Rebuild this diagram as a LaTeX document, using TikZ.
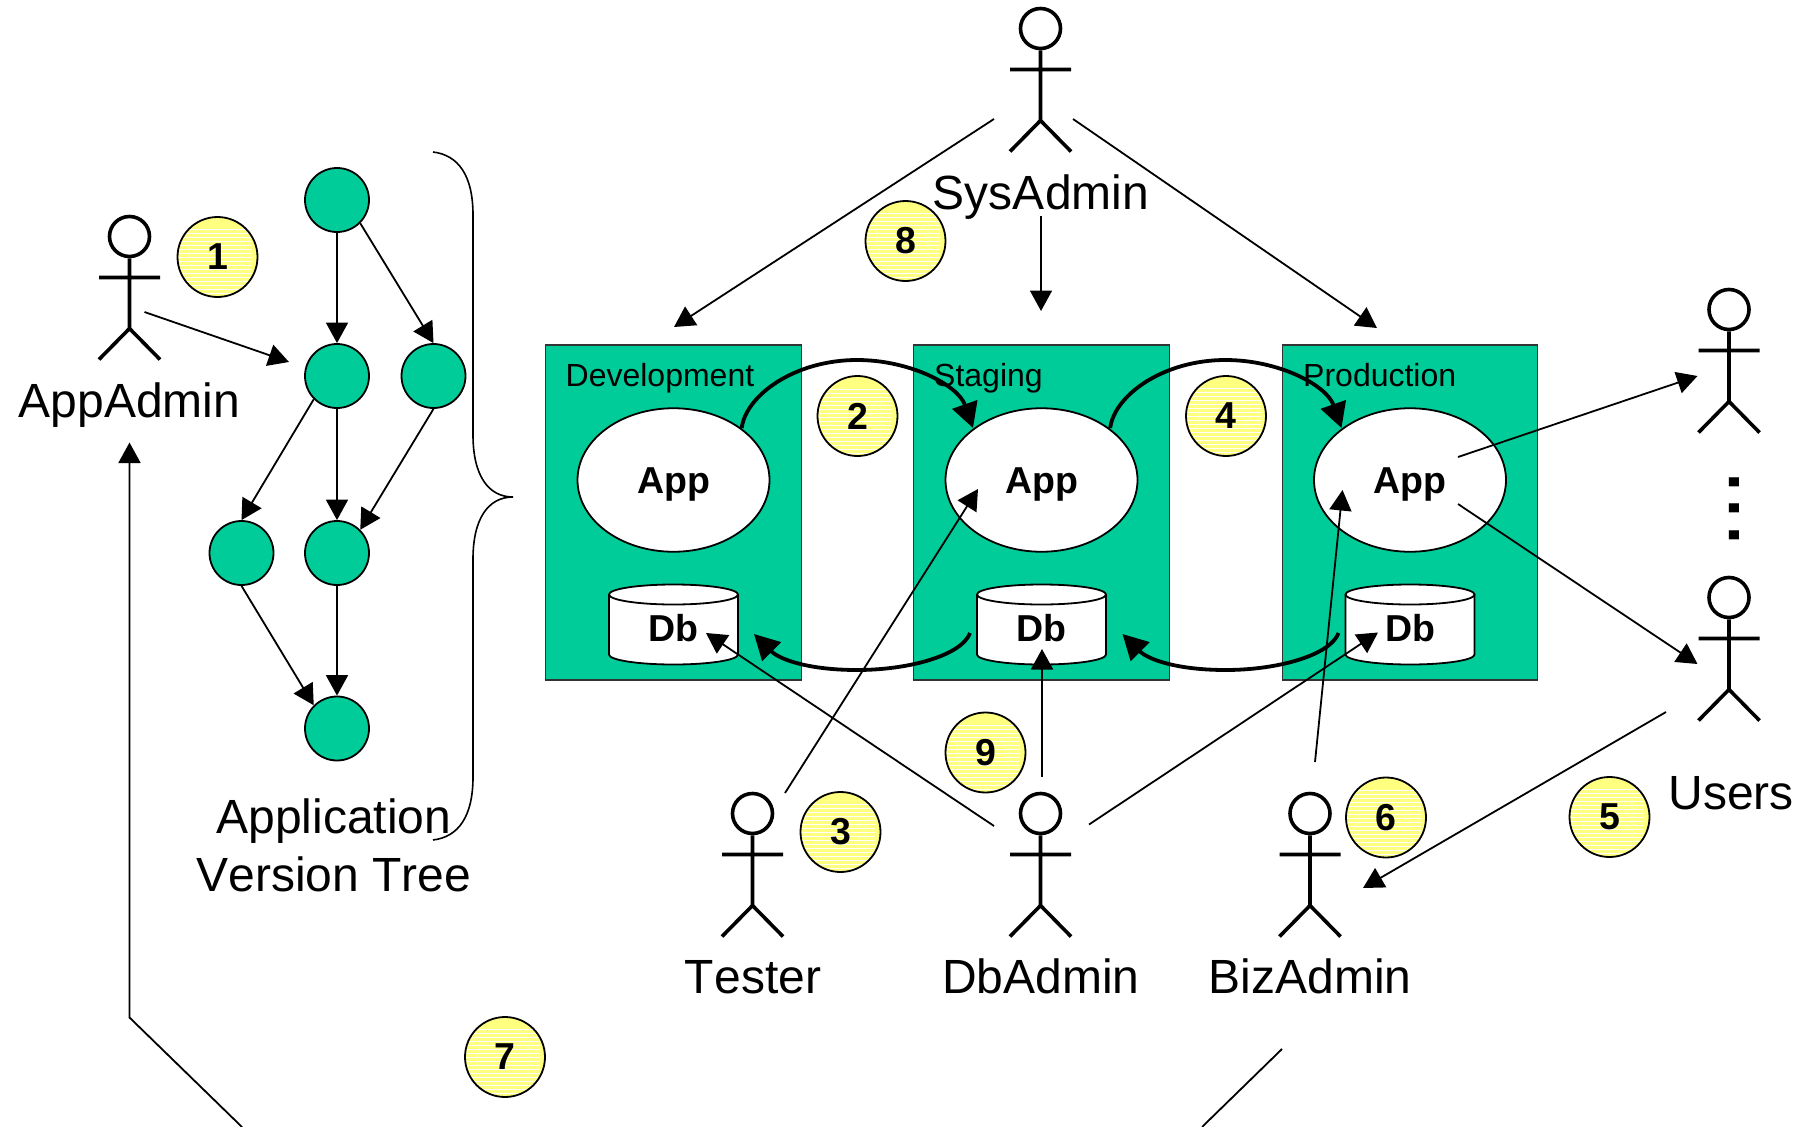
\documentclass[tikz,border=0pt]{standalone}
\usepackage{fontspec}
\setmainfont{Liberation Sans}[Kerning=Off]
\usetikzlibrary{arrows.meta,shapes.geometric}
\definecolor{panelgreen}{HTML}{00CC99}
\definecolor{badgeyellow}{HTML}{FFFF80}
\newcommand{\fsz}[1]{\fontsize{#1}{#1}\selectfont}
\tikzset{
  thinarrow/.style={line width=1.8pt,-{Triangle[length=20.5pt,width=22pt]}},
  thickarrow/.style={line width=3.8pt,-{Triangle[length=25pt,width=26pt]}},
  treenode/.style={circle,draw=black,line width=1.8pt,fill=panelgreen,minimum size=64pt,inner sep=0pt},
  panel/.style={draw=black!80,line width=1.4pt,fill=panelgreen,minimum width=255.5pt,minimum height=335pt,inner sep=0pt},
  appell/.style={ellipse,draw=black,line width=1.8pt,fill=white,minimum width=192pt,minimum height=143.5pt,inner sep=0pt},
  boldlabel/.style={anchor=base,font=\bfseries\fsz{37.5},inner sep=0pt},
  panellabel/.style={anchor=base west,font=\fsz{32},inner sep=0pt},
  actorlabel/.style={anchor=base,font=\fsz{48},inner sep=0pt},
  badge/.style={circle,draw=black,line width=1.8pt,fill=badgeyellow,minimum size=80pt,inner sep=0pt,font=\bfseries\fsz{37.5},
    path picture={\foreach \yy in {-40,-36,...,40}{\draw[white,line width=0.9pt] (-45,\yy)--(45,\yy);}}},
  actor/.pic={
    \node[circle,draw=black,line width=3.6pt,minimum size=40pt,inner sep=0pt] (-head) at (0,0) {};
    \draw[line width=3.6pt] (-head.south) -- (0,92) (-30.5,41) -- (30.5,41) (-30.5,123) -- (0,92) -- (30.5,123);
  },
  dbcyl/.pic={
    \draw[line width=1.8pt,fill=white] (-64.5,0) -- (-64.5,60) arc[x radius=64.5,y radius=10,start angle=180,end angle=0] -- (64.5,0);
    \draw[line width=1.8pt,fill=white] (0,0) ellipse[x radius=64.5,y radius=10];
  }
}
\begin{document}
\begin{tikzpicture}[x=1pt,y=-1pt]
\useasboundingbox (0,0) rectangle (1813,1127);
% panels
\node[panel] (pdev) at (673.5,512.5) {};
\node[panel] (psta) at (1041.5,512.5) {};
\node[panel] (ppro) at (1410,512.5) {};
\node[appell] (adev) at (673.5,480) {};
\node[appell] (asta) at (1041.5,480) {};
\node[appell] (apro) at (1410,480) {};
\node[boldlabel] (adevt) at (673.5,493) {App};
\node[boldlabel] (astat) at (1041.5,493) {App};
\node[boldlabel] (aprot) at (1410,493) {App};
\pic at (673.5,594.5) {dbcyl};
\pic at (1041.5,594.5) {dbcyl};
\pic at (1410,594.5) {dbcyl};
\node[boldlabel] (ddev) at (673.5,641.5) {Db};
\node[boldlabel] (dsta) at (1041.5,641.5) {Db};
\node[boldlabel] (dpro) at (1410,641.5) {Db};
\node[panellabel] (ldev) at (565.5,386) {Development};
\node[panellabel] (lsta) at (934,386) {Staging};
\node[panellabel] (lpro) at (1303,386) {Production};
% tree
\node[treenode] (t1) at (337,200) {};
\node[treenode] (t2) at (337,376) {};
\node[treenode] (t3) at (433.5,376) {};
\node[treenode] (t4) at (241.5,553) {};
\node[treenode] (t5) at (337,553) {};
\node[treenode] (t6) at (337,728.5) {};
\draw[thinarrow] (t1) -- (t2);
\draw[thinarrow] (t1.south east) -- (t3.north);
\draw[thinarrow] (t2.south west) -- (t4.north);
\draw[thinarrow] (t2) -- (t5);
\draw[thinarrow] (t3.south) -- (t5.north east);
\draw[thinarrow] (t4.south) -- (t6.north west);
\draw[thinarrow] (t5) -- (t6);
% brace
\coordinate (bracetop) at (433,152);
\coordinate (bracetip) at (513,497);
\coordinate (bracebot) at (433,840);
\draw[line width=1.6pt] (bracetop) .. controls (458,155) and (473,175) .. (473,215) -- (473,435)
  .. controls (473,475) and (488,497) .. (bracetip) .. controls (488,497) and (473,519) .. (473,559) -- (473,777)
  .. controls (473,817) and (458,837) .. (bracebot);
% actors
\pic (sys) at (1040.5,28.5) {actor};
\pic (app) at (129.5,236.5) {actor};
\pic (ua) at (1729,309.5) {actor};
\pic (ub) at (1729,597.5) {actor};
\pic (tes) at (752.5,813.5) {actor};
\pic (dba) at (1040.5,813.5) {actor};
\pic (biz) at (1310,813.5) {actor};
% labels
\node[actorlabel] (lsys) at (1041,209) {SysAdmin};
\node[actorlabel] (lapp) at (129.5,417) {AppAdmin};
\node[inner sep=0pt,align=center,font=\fsz{48}] (ltree) at (334,845.5) {Application\\[10pt]Version Tree};
\node[actorlabel] (ltes) at (753,993) {Tester};
\node[actorlabel] (ldba) at (1041,993) {DbAdmin};
\node[actorlabel] (lbiz) at (1310,993) {BizAdmin};
\node[actorlabel] (lusr) at (1731,809) {Users};
\node[inner sep=0pt,rotate=90,font=\fsz{95}] (dots) at (1734.5,508.5) {...};
% free connector ends
\coordinate (s0a) at (994,119); \coordinate (s1a) at (674,327);
\coordinate (s0b) at (1041,216); \coordinate (s1b) at (1041,311);
\coordinate (s0c) at (1073,119); \coordinate (s1c) at (1377,328);
\coordinate (a0) at (144.5,312); \coordinate (a1) at (289,362);
\coordinate (t0) at (785,793); \coordinate (t9) at (978,489);
\coordinate (d0a) at (994,826); \coordinate (d1a) at (706,633);
\coordinate (d0b) at (1042,777); \coordinate (d1b) at (1042,649);
\coordinate (d0c) at (1089,824.5); \coordinate (d1c) at (1378,632.5);
\coordinate (b0) at (1315,762); \coordinate (b1) at (1342.5,490);
\coordinate (u0a) at (1458,457); \coordinate (u1a) at (1697.5,376);
\coordinate (u0b) at (1458,504); \coordinate (u1b) at (1697.5,664);
\coordinate (u2) at (1666,712); \coordinate (u3) at (1363,888);
\coordinate (f0) at (1282,1049); \coordinate (f1) at (1202,1127);
\coordinate (f2) at (242,1127); \coordinate (f3) at (129.5,1017.5); \coordinate (f4) at (129.5,442.5);
\draw[thinarrow] (s0a) -- (s1a);
\draw[thinarrow] (s0b) -- (s1b);
\draw[thinarrow] (s0c) -- (s1c);
\draw[thinarrow] (a0) -- (a1);
\draw[thinarrow] (t0) -- (t9);
\draw[thinarrow] (d0a) -- (d1a);
\draw[thinarrow] (d0b) -- (d1b);
\draw[thinarrow] (d0c) -- (d1c);
\draw[thinarrow] (b0) -- (b1);
\draw[thinarrow] (u0a) -- (u1a);
\draw[thinarrow] (u0b) -- (u1b);
\draw[thinarrow] (u2) -- (u3);
\draw[line width=1.8pt] (f0) -- (f1);
\draw[thinarrow] (f2) -- (f3) -- (f4);
% promotion arcs
\coordinate (p0a) at (741.7,428); \coordinate (p1a) at (973,428);
\coordinate (p0b) at (1110.2,428); \coordinate (p1b) at (1341.5,428);
\draw[thickarrow] (p0a) .. controls (746,395) and (795,360) .. (857,360) .. controls (910,360) and (958,385) .. (p1a);
\draw[thickarrow] (p0b) .. controls (1114.5,395) and (1163.5,360) .. (1225.5,360) .. controls (1278.5,360) and (1326.5,385) .. (p1b);
\coordinate (r0a) at (970,633); \coordinate (r1a) at (754,634);
\coordinate (r0b) at (1338.5,633); \coordinate (r1b) at (1122.5,634);
\draw[thickarrow] (r0a) .. controls (962,655) and (910,670) .. (857,670) .. controls (810,670) and (780,660) .. (r1a);
\draw[thickarrow] (r0b) .. controls (1330.5,655) and (1278.5,670) .. (1225.5,670) .. controls (1178.5,670) and (1148.5,660) .. (r1b);
% badges
\node[badge] (b1n) at (217.5,257) {1};
\node[badge] (b2n) at (857.5,416) {2};
\node[badge] (b3n) at (840.5,832) {3};
\node[badge] (b4n) at (1226,416) {4};
\node[badge] (b5n) at (1609.5,817) {5};
\node[badge] (b6n) at (1386,817.5) {6};
\node[badge] (b7n) at (505,1057) {7};
\node[badge] (b8n) at (905.5,241) {8};
\node[badge] (b9n) at (985.5,752.5) {9};
\end{tikzpicture}
\end{document}
